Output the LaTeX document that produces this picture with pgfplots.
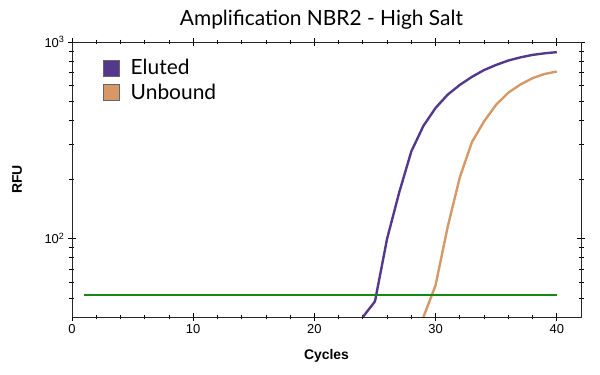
\documentclass[border=0pt]{standalone}
\usepackage{fontspec}
\setmainfont{Liberation Sans}
\newfontfamily\titlefont{Lato}
\usepackage{pgfplots}
\pgfplotsset{compat=1.18}
\definecolor{elutedcol}{RGB}{84,56,140}
\definecolor{unboundcol}{RGB}{214,152,102}
\definecolor{threshgreen}{RGB}{20,135,20}
\begin{document}
\begin{tikzpicture}
\begin{axis}[
  scale only axis, width=509bp, height=275bp,
  at={(0,0)}, anchor=south west,
  xmin=0, xmax=42, ymin=40, ymax=1000,
  ymode=log,
  /pgf/number format/assume math mode=true,
  xtick={0,10,20,30,40},
  minor xtick={2,4,...,38},
  ytick={100,1000},
  yticklabels={10\textsuperscript{2},10\textsuperscript{3}},
  minor ytick={50,60,70,80,90,200,300,400,500,600,700,800,900},
  tick align=center,
  major tick length=8bp, minor tick length=5bp,
  every tick/.style={black, line width=0.8pt},
  axis line style={line width=0.9pt, black!85},
  ticklabel style={font=\fontsize{13}{15}\selectfont},
  xlabel={Cycles}, ylabel={RFU},
  xlabel style={font=\bfseries\fontsize{14}{16}\selectfont, at={(axis description cs:0.5,-0.142)}, anchor=center},
  ylabel style={font=\bfseries\fontsize{14}{16}\selectfont, at={(axis description cs:-0.108,0.5)}, anchor=center},
  title={\titlefont\fontsize{21}{24}\selectfont Amplification NBR2 - High Salt},
  title style={at={(axis description cs:0.49,1)}, anchor=base, yshift=11bp},
  legend style={at={(axis description cs:0.061,0.945)}, anchor=north west, draw=none, fill=none,
    font=\titlefont\fontsize{21}{24}\selectfont, row sep=4bp, inner sep=0pt},
  legend cell align=left,
]
\addlegendimage{legend image code/.code={\draw[draw=black!60, line width=0.5pt, fill=elutedcol] (0bp,-8bp) rectangle (16bp,8bp);}}
\addlegendentry{\hspace{9bp}Eluted}
\addlegendimage{legend image code/.code={\draw[draw=black!60, line width=0.5pt, fill=unboundcol] (0bp,-8bp) rectangle (16bp,8bp);}}
\addlegendentry{\hspace{9bp}Unbound}
\addplot[color=unboundcol, line width=2.4pt, forget plot] coordinates {
(29,40) (30,58) (31,115) (32,205) (33,310) (34,395) (35,480) (36,552) (37,608) (38,655) (39,688) (40,708)};
\addplot[color=elutedcol, line width=2.4pt, forget plot] coordinates {
(24,40) (25,48) (26,100) (27,172) (28,278) (29,375) (30,462) (31,540) (32,605) (33,665) (34,720) (35,765) (36,805) (37,835) (38,860) (39,876) (40,888)};
\addplot[color=threshgreen, solid, line width=2pt, forget plot] coordinates {(1,51.5) (20,51.5) (40,51.5)};
\end{axis}
\pgfresetboundingbox
\path[use as bounding box] (-72bp,-58bp) rectangle (528bp,317bp);
\end{tikzpicture}
\end{document}
